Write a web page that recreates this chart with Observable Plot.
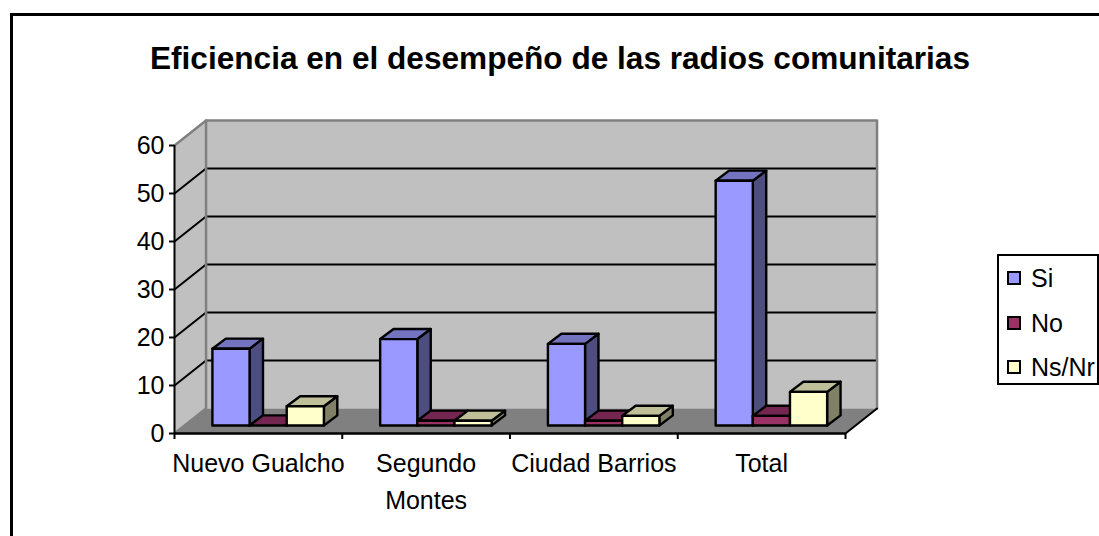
<!DOCTYPE html>
<html lang="es">
<head>
<meta charset="utf-8">
<script src="https://cdn.jsdelivr.net/npm/d3@7"></script>
<script src="https://cdn.jsdelivr.net/npm/@observablehq/plot@0.6"></script>
<style>
  html, body { margin: 0; background: #fff; }
  #page { position: relative; width: 1099px; height: 536px; overflow: hidden; font-family: "Liberation Sans", Arial, sans-serif; color: #000; }
  #frame { position: absolute; left: 9.5px; top: 13px; width: 1200px; height: 700px; border: 3px solid #000; box-sizing: border-box; }
  #title { position: relative; height: 100px; text-align: center; font-weight: bold; font-size: 31.6px; line-height: 88px; padding-top: 14px; box-sizing: border-box; padding-left: 21px; white-space: nowrap; }
  #chart { position: relative; height: 436px; }
  #chart svg { display: block; overflow: visible; background: transparent; }
  #legend { position: absolute; left: 997px; top: 254px; width: 102px; height: 131px; border: 2px solid #000; box-sizing: border-box; background: #fff; }
  #legend div { position: absolute; left: 8px; height: 26px; line-height: 26px; font-size: 25px; white-space: nowrap; }
  #legend i { display: inline-block; width: 10px; height: 10px; border: 2px solid #000; margin-right: 10px; vertical-align: 2px; }
</style>
</head>
<body>
<div id="page">
  <div id="frame"></div>
  <div id="title">Eficiencia en el desempeño de las radios comunitarias</div>
  <div id="chart"></div>
  <div id="legend"></div>
</div>
<script>
const categories = ["Nuevo Gualcho", "Segundo\nMontes", "Ciudad Barrios", "Total"];
const seriesNames = ["Si", "No", "Ns/Nr"];
const si = [16, 18, 17, 51];
const no = [0, 1, 1, 2];
const nsnr = [4, 1, 2, 7];
const yTicks = [0, 10, 20, 30, 40, 50, 60];
const xBoundaries = [0, 1, 2, 3, 4];

const frontColors = ["#9999FF", "#993366", "#FFFFCC"];
const topColors = ["#7373BF", "#732650", "#BFBF99"];
const sideColors = ["#4D4D80", "#4D1933", "#808066"];

// Projection of depth in data units
const wallDx = 0.188, wallDy = 5.2;
const barDx = 0.08, barDy = 2.1;
const baseDy = 1.67;
const barStart = 0.226, barWidth = 0.2215;

const values = [si, no, nsnr];
const faces = [];
function face(id, fill, pts) {
  for (const [x, y] of [...pts, pts[0]]) faces.push({id, fill, x, y});
}
categories.forEach((_, c) => {
  values.forEach((vals, s) => {
    const x0 = c + barStart + s * barWidth, x1 = x0 + barWidth;
    const y0 = baseDy, y1 = baseDy + vals[c];
    const k = `${c}-${s}`;
    face(k + "-side", sideColors[s], [[x1, y0], [x1 + barDx, y0 + barDy], [x1 + barDx, y1 + barDy], [x1, y1]]);
    face(k + "-top", topColors[s], [[x0, y1], [x1, y1], [x1 + barDx, y1 + barDy], [x0 + barDx, y1 + barDy]]);
    if (vals[c] > 0) face(k + "-front", frontColors[s], [[x0, y0], [x1, y0], [x1, y1], [x0, y1]]);
  });
});

const walls = [];
function wall(id, fill, pts) { for (const [x, y] of pts) walls.push({id, fill, x, y}); }
wall("side", "#C0C0C0", [[0, 0], [wallDx, wallDy], [wallDx, 60 + wallDy], [0, 60]]);
wall("back", "#C0C0C0", [[wallDx, wallDy], [4 + wallDx, wallDy], [4 + wallDx, 60 + wallDy], [wallDx, 60 + wallDy]]);
wall("floor", "#808080", [[0, 0], [4, 0], [4 + wallDx, wallDy], [wallDx, wallDy]]);

const grid = yTicks.filter(t => t > 0 && t < 60).flatMap(t => [
  {id: t, x: 0, y: t}, {id: t, x: wallDx, y: t + wallDy}, {id: t, x: 4 + wallDx, y: t + wallDy}
]);
const wallEdges = [
  {id: "a", x: 0, y: 0}, {id: "a", x: wallDx, y: wallDy}, {id: "a", x: wallDx, y: 60 + wallDy},
  {id: "b", x: 0, y: 60}, {id: "b", x: wallDx, y: 60 + wallDy}, {id: "b", x: 4 + wallDx, y: 60 + wallDy}, {id: "b", x: 4 + wallDx, y: wallDy}
];

const plot = Plot.plot({
  width: 1099,
  height: 436,
  marginLeft: 174,
  marginRight: 254,
  marginTop: 45,
  marginBottom: 103,
  style: {background: "transparent", fontFamily: "'Liberation Sans', Arial, sans-serif", color: "#000"},
  x: {type: "linear", domain: [0, 4]},
  y: {type: "linear", domain: [0, 60]},
  color: {type: "identity"},
  marks: [
    Plot.line(walls, {x: "x", y: "y", z: "id", fill: "fill", stroke: "none"}),
    Plot.line(grid, {x: "x", y: "y", z: "id", stroke: "#000", strokeWidth: 2}),
    Plot.line(wallEdges, {x: "x", y: "y", z: "id", stroke: "#808080", strokeWidth: 2.5}),
    Plot.line([{x: 4, y: 0}, {x: 4 + wallDx, y: wallDy}], {x: "x", y: "y", stroke: "#000", strokeWidth: 2}),
    Plot.ruleX([0], {y1: 0, y2: 60, stroke: "#000", strokeWidth: 2}),
    Plot.ruleY([0], {x1: 0, x2: 4, stroke: "#000", strokeWidth: 2.5}),
    Plot.axisY(yTicks, {anchor: "left", tickSize: 5, tickPadding: 5, fontSize: 25, strokeWidth: 2, label: null, fill: "#000", stroke: "#000"}),
    Plot.axisX(xBoundaries, {anchor: "bottom", tickSize: 6, tickFormat: () => "", strokeWidth: 2, label: null, stroke: "#000"}),
    Plot.text(categories, {
      x: (_, i) => i + 0.5, y: () => 0, text: d => d,
      lineAnchor: "top", dy: 12, fontSize: 25, lineHeight: 1.48, fill: "#000"
    }),
    Plot.line(faces, {x: "x", y: "y", z: "id", fill: "fill", stroke: "#000", strokeWidth: 2.4})
  ]
});
document.getElementById("chart").appendChild(plot);

const legend = document.getElementById("legend");
seriesNames.forEach((name, i) => {
  const row = document.createElement("div");
  row.style.top = (9 + i * 44.5) + "px";
  const sw = document.createElement("i");
  sw.style.background = frontColors[i];
  row.appendChild(sw);
  row.appendChild(document.createTextNode(name));
  legend.appendChild(row);
});
</script>
</body>
</html>
